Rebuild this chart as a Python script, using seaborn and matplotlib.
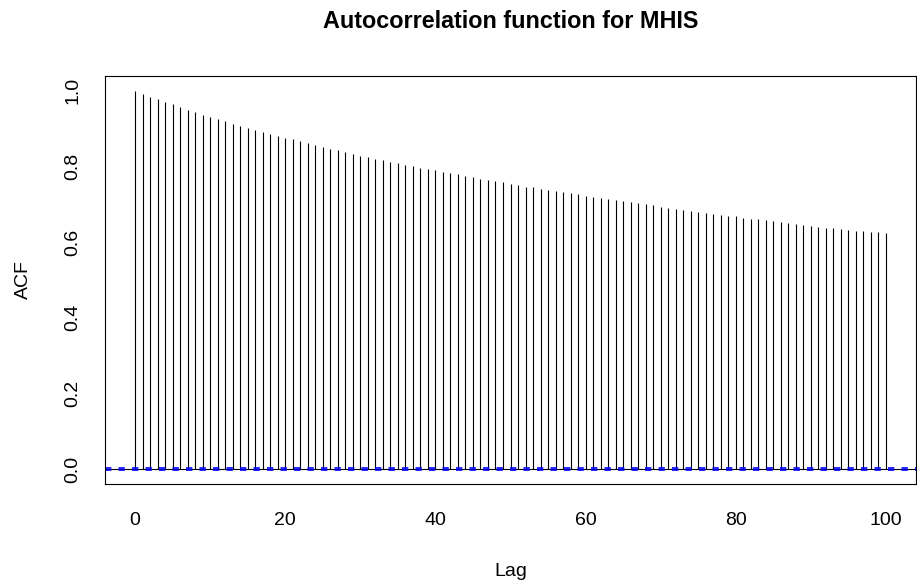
import numpy as np
import pandas as pd
import matplotlib
matplotlib.use("Agg")
import matplotlib.pyplot as plt
import seaborn as sns

# Sample autocorrelations of the MHIS chain, lags 0..100
lags = list(range(0, 101))
acf_values = [
    1.000, 0.992, 0.985, 0.978, 0.971, 0.964, 0.957, 0.950, 0.943, 0.937,
    0.931, 0.925, 0.919, 0.913, 0.907, 0.902, 0.897, 0.891, 0.886, 0.881,
    0.875, 0.872, 0.867, 0.861, 0.857, 0.852, 0.847, 0.843, 0.838, 0.834,
    0.829, 0.825, 0.820, 0.816, 0.812, 0.808, 0.804, 0.800, 0.796, 0.793,
    0.790, 0.786, 0.782, 0.779, 0.775, 0.772, 0.768, 0.765, 0.761, 0.758,
    0.754, 0.751, 0.747, 0.745, 0.741, 0.737, 0.735, 0.732, 0.729, 0.726,
    0.722, 0.720, 0.717, 0.714, 0.711, 0.708, 0.706, 0.703, 0.700, 0.697,
    0.694, 0.691, 0.688, 0.685, 0.682, 0.680, 0.677, 0.675, 0.673, 0.670,
    0.668, 0.665, 0.662, 0.660, 0.658, 0.655, 0.653, 0.651, 0.648, 0.645,
    0.643, 0.640, 0.638, 0.637, 0.635, 0.633, 0.630, 0.629, 0.627, 0.626,
    0.623,
]
n_obs = 1000000         # length of the chain

x_ticks = [0, 20, 40, 60, 80, 100]
y_ticks = [0.0, 0.2, 0.4, 0.6, 0.8, 1.0]
y_tick_labels = ["0.0", "0.2", "0.4", "0.6", "0.8", "1.0"]

df = pd.DataFrame({"Lag": lags, "ACF": acf_values})
# 95% white-noise band
ci = 1.959964 / np.sqrt(n_obs)

sns.set_theme(style="white")
plt.rcParams["font.family"] = ["Liberation Sans", "DejaVu Sans"]

fig = plt.figure(figsize=(9.17, 5.86), dpi=100)
ax = fig.add_axes([105 / 917, 101.7 / 586, 811 / 917, 408.6 / 586])

# ACF stems
ax.vlines(df["Lag"], 0, df["ACF"], colors="black", linewidth=0.8)
ax.axhline(0, color="black", linewidth=0.8)
# confidence bounds
for b in (ci, -ci):
    ax.axhline(b, color="#0000FF", linewidth=1.2, linestyle=(0, (3.8, 4.3)))

ax.set_xlim(-4, 104)
ax.set_ylim(-0.04, 1.04)
ax.set_xticks(x_ticks)
ax.set_xticklabels([str(t) for t in x_ticks])
ax.set_yticks(y_ticks)
ax.set_yticklabels(y_tick_labels, rotation=90, va="center")

for side in ax.spines.values():
    side.set_color("black")
    side.set_linewidth(0.8)

ax.tick_params(axis="both", which="major", direction="out", length=9.2,
               width=0.8, color="black", labelsize=14, labelcolor="black")
ax.tick_params(axis="x", pad=11)
ax.tick_params(axis="y", pad=8)
ax.set_xlabel("")
ax.set_ylabel("")

fig.text(510.5 / 917, 1 - 28.5 / 586, "Autocorrelation function for MHIS",
         ha="center", va="baseline", fontsize=16.8, fontweight="bold",
         color="black")
fig.text(510.5 / 917, 1 - 576 / 586, "Lag", ha="center", va="baseline",
         fontsize=14, color="black")
fig.text(28.3 / 917, 1 - 280 / 586, "ACF", ha="center", va="baseline",
         rotation=90, rotation_mode="anchor", fontsize=14, color="black")

fig.savefig("out.png", dpi=100, facecolor="white")
